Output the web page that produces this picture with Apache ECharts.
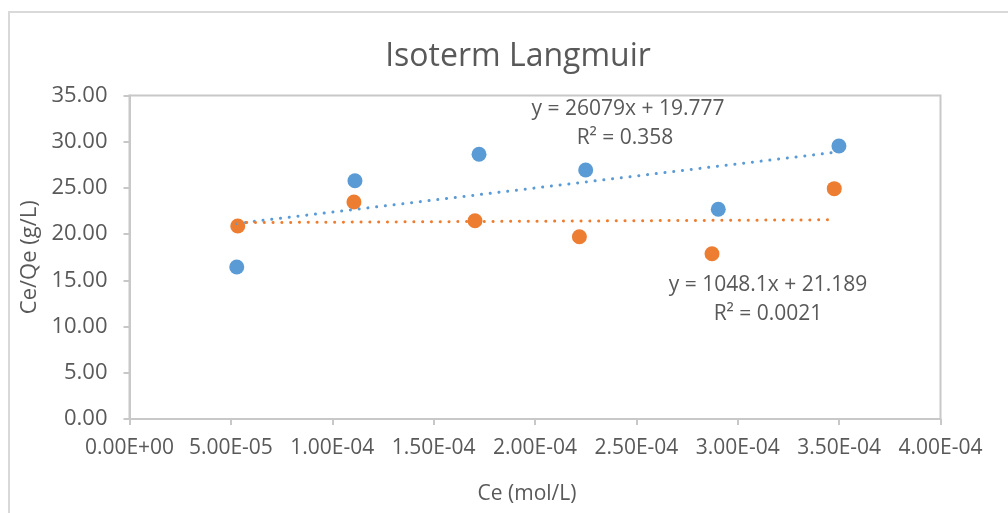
<!DOCTYPE html>
<html>
<head>
<meta charset="utf-8">
<script src="https://cdn.jsdelivr.net/npm/echarts@6.0.0/dist/echarts.min.js"></script>
<style>
  html, body { margin: 0; padding: 0; background: #fff; }
  #chart { width: 1008px; height: 513px; }
</style>
</head>
<body>
<div id="chart"></div>
<script>
// Langmuir isotherm: Ce/Qe against Ce, two runs with linear trendlines.
var ceBlue = [5.29e-5, 1.112e-4, 1.724e-4, 2.250e-4, 2.904e-4, 3.499e-4];
var ratioBlue = [16.44, 25.78, 28.64, 26.94, 22.69, 29.54];
var ceOrange = [5.34e-5, 1.107e-4, 1.704e-4, 2.219e-4, 2.873e-4, 3.476e-4];
var ratioOrange = [20.88, 23.48, 21.45, 19.72, 17.88, 24.92];

// trendline coefficients as printed on the chart: [slope, intercept]
var fitBlue = [26079, 19.777];
var fitOrange = [1048.1, 21.189];
var eqBlue = ['y = 26079x + 19.777', 'R² = 0.358'];
var eqOrange = ['y = 1048.1x + 21.189', 'R² = 0.0021'];

var BLUE = '#5B9BD5';
var ORANGE = '#ED7D31';
var TEXT = '#595959';
var FONT = '"Open Sans", "Liberation Sans", sans-serif';

function pairs(xs, ys) {
    var out = [];
    for (var i = 0; i < xs.length; i++) out.push([xs[i], ys[i]]);
    return out;
}

function trend(xs, fit) {
    var lo = Math.min.apply(null, xs);
    var hi = Math.max.apply(null, xs);
    return [[lo, fit[0] * lo + fit[1]], [hi, fit[0] * hi + fit[1]]];
}

function sci(v) {
    var s = v.toExponential(2).toUpperCase();
    var m = s.match(/^(.*)E([+-])(\d+)$/);
    if (!m) return s;
    var e = m[3].length < 2 ? '0' + m[3] : m[3];
    return m[1] + 'E' + m[2] + e;
}

function eqText(x, y, txt) {
    return {
        type: 'text', x: x, y: y, z: 50,
        style: { text: txt, fontSize: 21, fontFamily: FONT, fill: TEXT, align: 'center', verticalAlign: 'middle' }
    };
}

var chart = echarts.init(document.getElementById('chart'), null, { renderer: 'canvas' });

var dotted = { width: 3, type: [0.1, 8.7], cap: 'round' };

chart.setOption({
    animation: false,
    backgroundColor: '#fff',
    title: {
        text: 'Isoterm Langmuir',
        left: 513, top: 36, textAlign: 'center',
        textStyle: { fontSize: 32, fontWeight: 'normal', fontFamily: FONT, color: TEXT }
    },
    grid: {
        left: 129.5, right: 67.5, top: 95.5, bottom: 94,
        show: true, borderColor: '#C8C8C8', borderWidth: 2, backgroundColor: 'transparent'
    },
    xAxis: {
        type: 'value', min: 0, max: 4e-4, interval: 5e-5,
        name: 'Ce (mol/L)', nameLocation: 'middle', nameGap: 65,
        nameTextStyle: { fontSize: 21, fontFamily: FONT, color: TEXT, padding: [0, 16, 0, 0] },
        splitLine: { show: false },
        axisLine: { show: true, lineStyle: { color: '#C8C8C8', width: 2 } },
        axisTick: { show: true, length: 6, lineStyle: { color: '#C8C8C8', width: 2 } },
        axisLabel: { margin: 19, fontSize: 21, fontFamily: FONT, color: TEXT, formatter: sci }
    },
    yAxis: {
        type: 'value', min: 0, max: 35, interval: 5,
        name: 'Ce/Qe (g/L)', nameLocation: 'middle', nameGap: 84, nameRotate: 90,
        nameTextStyle: { fontSize: 22, fontFamily: FONT, color: TEXT },
        splitLine: { show: false },
        axisLine: { show: true, lineStyle: { color: '#C8C8C8', width: 2 } },
        axisTick: { show: true, length: 6, lineStyle: { color: '#C8C8C8', width: 2 } },
        axisLabel: { margin: 22, fontSize: 22, fontFamily: FONT, color: TEXT, formatter: function (v) { return v.toFixed(2); } }
    },
    series: [
        {
            name: 'blue', type: 'scatter', symbolSize: 15,
            itemStyle: { color: BLUE, opacity: 1 },
            data: pairs(ceBlue, ratioBlue), z: 2
        },
        {
            name: 'orange', type: 'scatter', symbolSize: 15,
            itemStyle: { color: ORANGE, opacity: 1 },
            data: pairs(ceOrange, ratioOrange), z: 3
        },
        {
            name: 'blue trend', type: 'line', showSymbol: false, symbol: 'none',
            lineStyle: { color: BLUE, width: dotted.width, type: dotted.type, cap: dotted.cap },
            data: trend(ceBlue, fitBlue), z: 4
        },
        {
            name: 'orange trend', type: 'line', showSymbol: false, symbol: 'none',
            lineStyle: { color: ORANGE, width: dotted.width, type: dotted.type, cap: dotted.cap },
            data: trend(ceOrange, fitOrange), z: 5
        }
    ],
    graphic: [
        {
            type: 'rect', z: 0, silent: true,
            shape: { x: 9, y: 12, width: 1020, height: 530 },
            style: { fill: 'none', stroke: '#D9D9D9', lineWidth: 2 }
        },
        eqText(628, 109, eqBlue[0]),
        eqText(625, 138, eqBlue[1]),
        eqText(768, 285, eqOrange[0]),
        eqText(768, 314, eqOrange[1])
    ]
});
</script>
</body>
</html>
